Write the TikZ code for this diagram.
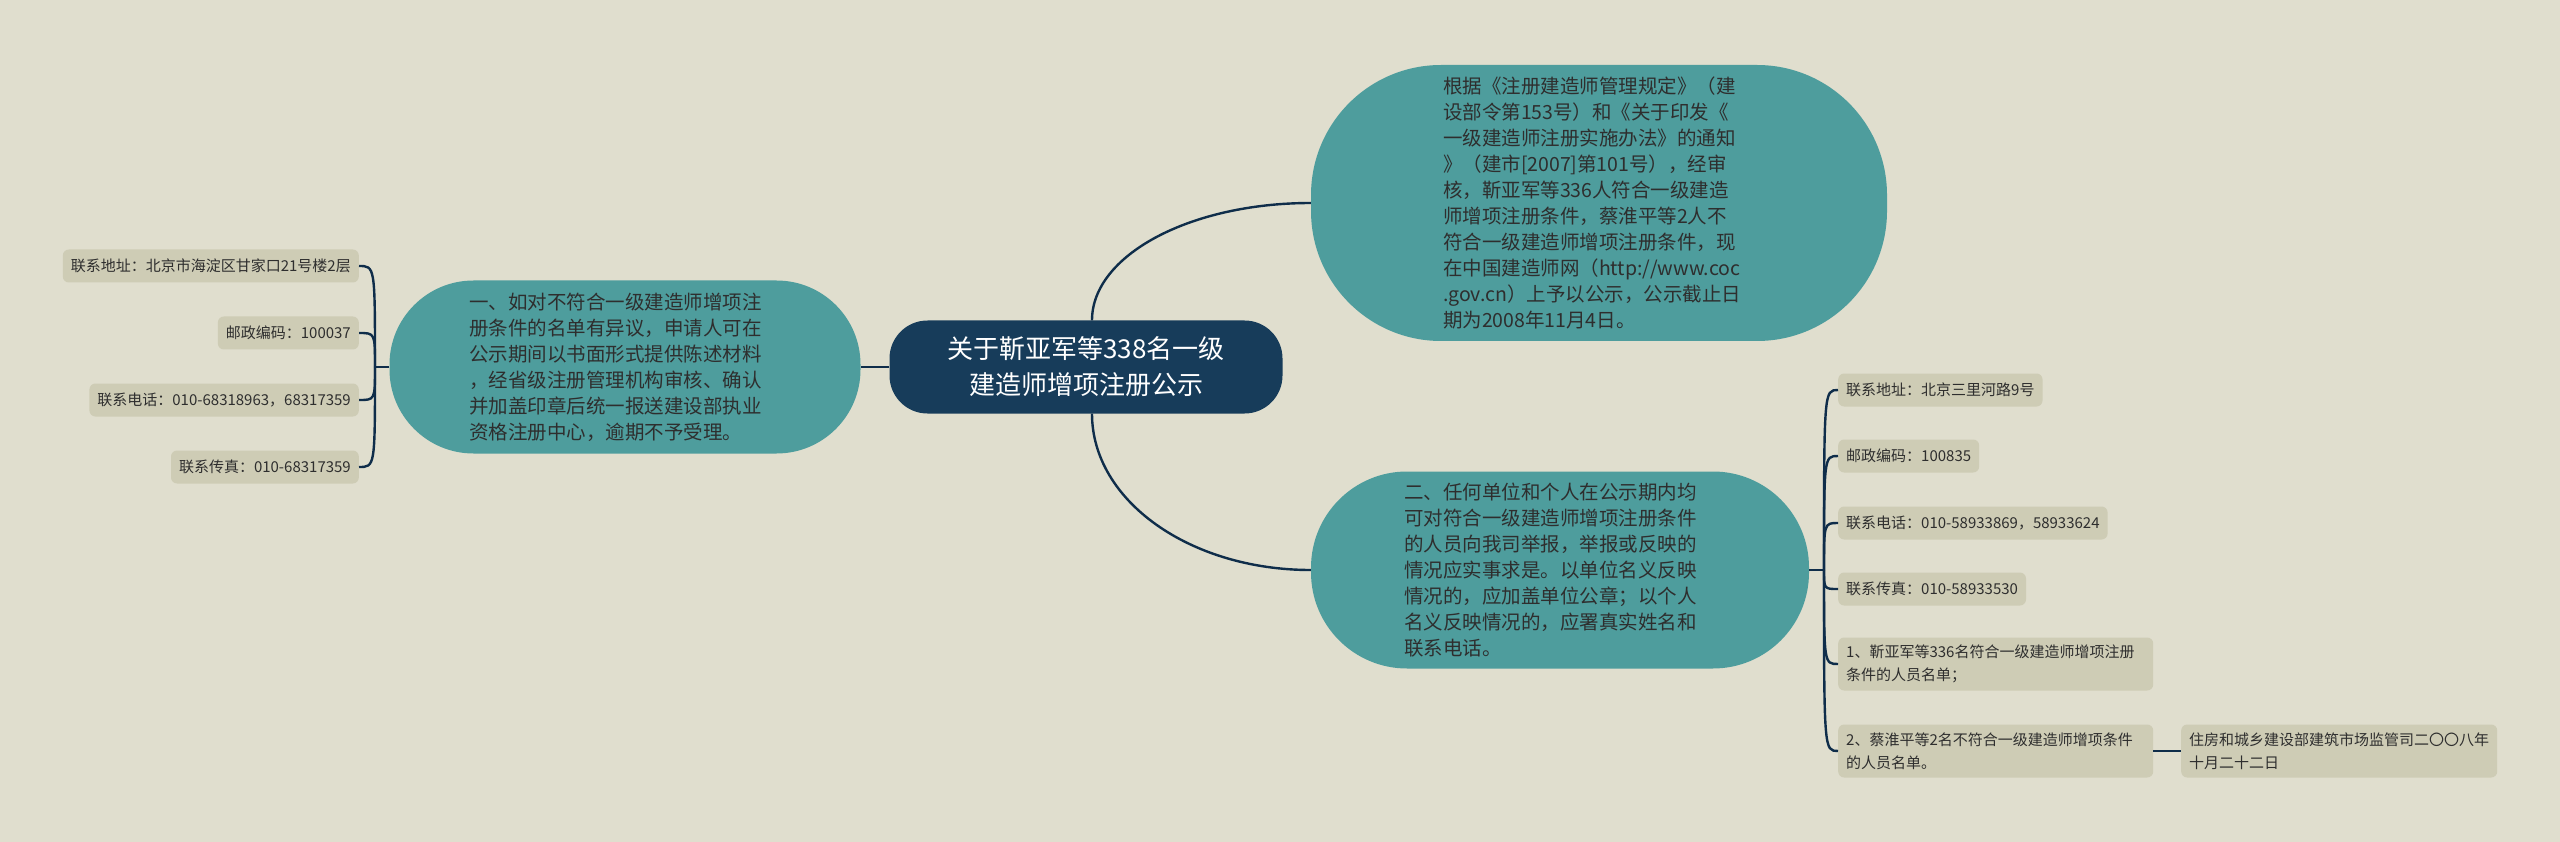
\documentclass[tikz,border=0pt]{standalone}
\usepackage{fontspec}
\setmainfont{Noto Sans CJK SC}
\definecolor{bgcol}{HTML}{E0DECE}
\definecolor{tealcol}{HTML}{4E9D9D}
\definecolor{navycol}{HTML}{173C5A}
\definecolor{leafcol}{HTML}{CECCB5}
\definecolor{linecol}{HTML}{0F2D4A}
\definecolor{textcol}{HTML}{2E2E2E}

\begin{document}
\begin{tikzpicture}[x=1pt,y=-1pt,
  topic/.style={fill=navycol,text=white,rounded corners=38pt,minimum width=393pt,minimum height=93pt,align=center,font=\fontsize{26}{36}\selectfont},
  branch/.style={fill=tealcol,text=textcol,text width=312pt,align=left,inner sep=0pt,font=\fontsize{19.5}{26}\selectfont},
  leaf/.style={fill=leafcol,text=textcol,rounded corners=6pt,inner xsep=8pt,inner ysep=0pt,minimum height=33pt,align=left,font=\fontsize{15}{23}\selectfont},
  link/.style={draw=linecol,line width=2.4pt}]

%BACKGROUND
\fill[bgcol] (0,0) rectangle (2560,842);
\useasboundingbox (0,0) rectangle (2560,842);

%TOPIC
\node[topic] (C) at (1086,367) {关于靳亚军等338名一级\\建造师增项注册公示};

%BRANCHES
% top right
\node[branch,minimum width=576pt,minimum height=276pt,rounded corners=130pt] (N1) at (1599,203) {根据《注册建造师管理规定》（建\\设部令第153号）和《关于印发《\\一级建造师注册实施办法》的通知\\》（建市[2007]第101号），经审\\核，靳亚军等336人符合一级建造\\师增项注册条件，蔡淮平等2人不\\符合一级建造师增项注册条件，现\\在中国建造师网（http://www.coc\\.gov.cn）上予以公示，公示截止日\\期为2008年11月4日。};
% left
\node[branch,minimum width=471pt,minimum height=173pt,rounded corners=84pt] (L) at (625,367) {一、如对不符合一级建造师增项注\\册条件的名单有异议，申请人可在\\公示期间以书面形式提供陈述材料\\，经省级注册管理机构审核、确认\\并加盖印章后统一报送建设部执业\\资格注册中心，逾期不予受理。};
% bottom right
\node[branch,minimum width=498pt,minimum height=197pt,rounded corners=96pt] (N2) at (1560,570) {二、任何单位和个人在公示期内均\\可对符合一级建造师增项注册条件\\的人员向我司举报，举报或反映的\\情况应实事求是。以单位名义反映\\情况的，应加盖单位公章；以个人\\名义反映情况的，应署真实姓名和\\联系电话。};

%LEAVES
% left
\node[leaf,anchor=east] (a1) at (359,266) {联系地址：北京市海淀区甘家口21号楼2层};
\node[leaf,anchor=east] (a2) at (359,333) {邮政编码：100037};
\node[leaf,anchor=east] (a3) at (359,400) {联系电话：010-68318963，68317359};
\node[leaf,anchor=east] (a4) at (359,467) {联系传真：010-68317359};
% right
\node[leaf,anchor=west] (b1) at (1838,390) {联系地址：北京三里河路9号};
\node[leaf,anchor=west] (b2) at (1838,456) {邮政编码：100835};
\node[leaf,anchor=west] (b3) at (1838,523) {联系电话：010-58933869，58933624};
\node[leaf,anchor=west] (b4) at (1838,589) {联系传真：010-58933530};
\node[leaf,anchor=west,text width=299pt,minimum height=53pt] (b5) at (1838,664) {1、靳亚军等336名符合一级建造师增项注册\\条件的人员名单；};
\node[leaf,anchor=west,text width=299pt,minimum height=53pt] (b6) at (1838,751) {2、蔡淮平等2名不符合一级建造师增项条件\\的人员名单。};
\node[leaf,anchor=west,text width=300pt,minimum height=53pt] (b7) at (2181,751) {住房和城乡建设部建筑市场监管司二〇〇八年\\十月二十二日};

%CONNECTORS
\draw[link] (C.west) -- (L.east);
\draw[link] ([xshift=6pt]C.north) .. controls +(0,-65) and +(-121,0) .. (N1.west);
\draw[link] ([xshift=6pt]C.south) .. controls +(0,87) and +(-121,0) .. (N2.west);
% left bracket
\coordinate (lj) at (375,367);
\draw[link] (L.west) -- (lj);
\foreach \n in {a1,a2,a3,a4}
  \draw[link] (lj) .. controls (lj |- \n.east) .. (\n.east);
% right bracket
\coordinate (rj) at (1824,570);
\draw[link] (N2.east) -- (rj);
\foreach \n in {b1,b2,b3,b4,b5,b6}
  \draw[link] (rj) .. controls (rj |- \n.west) .. (\n.west);
\draw[link] (b6.east) -- (b7.west);

\end{tikzpicture}
\end{document}
